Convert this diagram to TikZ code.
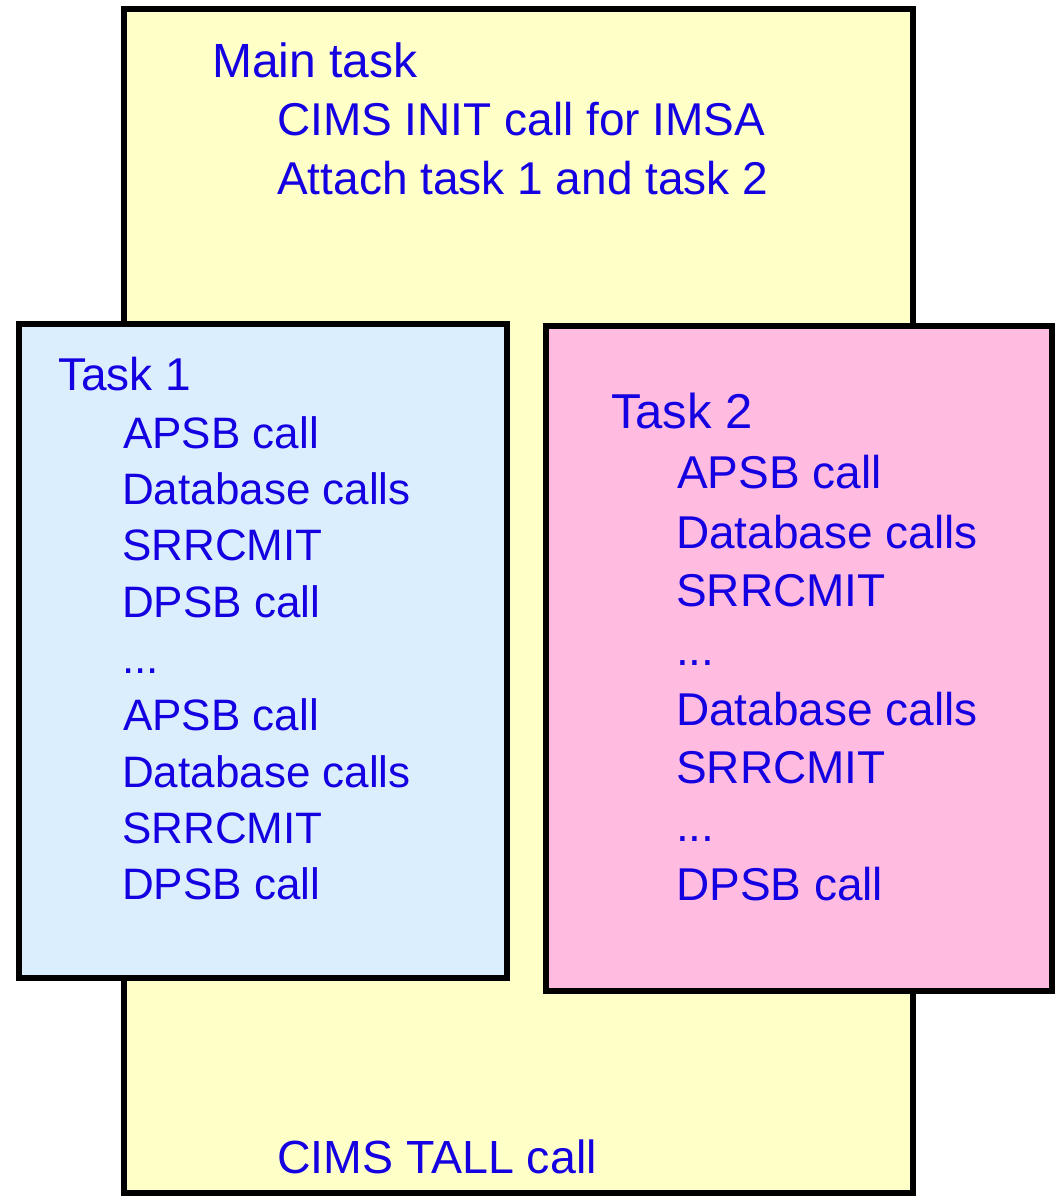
\documentclass[tikz,border=0pt]{standalone}
\usepackage{fontspec}
\setmainfont{Liberation Sans}
\definecolor{mainfill}{RGB}{255,255,200}
\definecolor{bluefill}{RGB}{219,238,253}
\definecolor{pinkfill}{RGB}{255,187,224}
\definecolor{txt}{RGB}{20,0,225}
\begin{document}
\begin{tikzpicture}[x=1pt,y=-1pt,
  panel/.style={draw=black,line width=6pt},
  lbl/.style={anchor=base west,inner sep=0pt,text=txt,font=\fontsize{46}{52}\selectfont},
  lblsmall/.style={lbl,font=\fontsize{44}{50}\selectfont},
  head/.style={lbl,font=\fontsize{48}{54}\selectfont}]
\useasboundingbox (0,0) rectangle (1060,1197);
\filldraw[panel,fill=mainfill] (124,9) rectangle (913,1193);
\filldraw[panel,fill=bluefill] (19,324) rectangle (507,978);
\filldraw[panel,fill=pinkfill] (546,326) rectangle (1052,991);
% main task
\node[head] (m0) at (212,77) {Main task};
\node[lbl] (m1) at (277,135) {CIMS INIT call for IMSA};
\node[lbl] (m2) at (277,194) {Attach task 1 and task 2};
\node[lbl,font=\fontsize{46.5}{52}\selectfont] (m3) at (277,1173) {CIMS TALL call};
% task 1
\node[lbl] (a0) at (58,390) {Task 1};
\node[lblsmall] (a1) at (123,448) {APSB call};
\node[lblsmall] (a2) at (122,504) {Database calls};
\node[lblsmall] (a3) at (122,560) {SRRCMIT};
\node[lblsmall] (a4) at (122,617) {DPSB call};
\node[lblsmall] (a5) at (122,673) {...};
\node[lblsmall] (a6) at (123,730) {APSB call};
\node[lblsmall] (a7) at (122,787) {Database calls};
\node[lblsmall] (a8) at (122,843) {SRRCMIT};
\node[lblsmall] (a9) at (122,899) {DPSB call};
% task 2
\node[lbl,font=\fontsize{49}{54}\selectfont] (b0) at (611,428) {Task 2};
\node[lbl] (b1) at (677,488) {APSB call};
\node[lbl] (b2) at (676,548) {Database calls};
\node[lbl] (b3) at (676,606) {SRRCMIT};
\node[lbl] (b4) at (676,665) {...};
\node[lbl] (b5) at (676,725) {Database calls};
\node[lbl] (b6) at (676,783) {SRRCMIT};
\node[lbl] (b7) at (676,841) {...};
\node[lbl] (b8) at (676,900) {DPSB call};
\end{tikzpicture}
\end{document}
